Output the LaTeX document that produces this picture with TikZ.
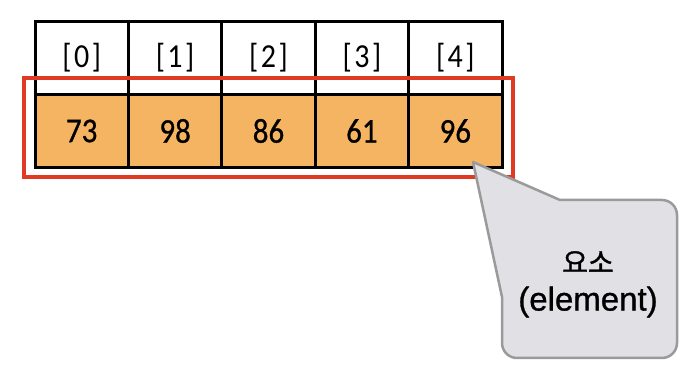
\documentclass[tikz,border=0pt]{standalone}
\usepackage{fontspec}
\usepackage{graphicx}
\setmainfont{Carlito}
\newfontfamily\cellfont[AutoFakeBold=0.8]{Carlito}
\newfontfamily\krfont[AutoFakeBold=1.2]{Noto Sans CJK KR}
\newfontfamily\arialfont[AutoFakeBold=0.9]{Liberation Sans}
\definecolor{cellorange}{HTML}{F4B462}
\definecolor{framered}{HTML}{E03A25}
\definecolor{calloutfill}{HTML}{E1E0E4}
\definecolor{calloutline}{HTML}{9A9A9A}
\tikzset{
  x=1pt,y=1pt,
  cellbox/.style={draw=black,line width=3pt,minimum width=93.4pt,minimum height=72.5pt,inner sep=0pt,anchor=center},
  headcell/.style={cellbox,fill=white,font=\cellfont\fontsize{30}{30}\selectfont},
  valcell/.style={cellbox,fill=cellorange,font=\cellfont\bfseries\fontsize{31}{31}\selectfont},
  redframe/.style={draw=framered,line width=4.5pt},
  callout/.style={draw=calloutline,fill=calloutfill,line width=2.5pt,line join=round},
}
\newcommand{\vs}[1]{\scalebox{1}[1.12]{#1}}
\begin{document}
\begin{tikzpicture}
\useasboundingbox (0,0) rectangle (694,380);
% header row
\foreach \i/\t in {0/0,1/1,2/2,3/3,4/4}{
  \node[headcell] (h\i) at ({35+46.7+93.4*\i},{380-58}) {\vs{[\kern2.5pt\t\kern2.5pt]}};
}
\foreach \i/\v in {0/73,1/98,2/86,3/61,4/96}{
  \node[valcell] (v\i) at ({35+46.7+93.4*\i},{380-131}) {\vs{\v}};
}
% red frame
\node[redframe,minimum width=489pt,minimum height=99pt,inner sep=0pt] (frame) at (268.5,{380-127.5}) {};
% callout
\coordinate (tip) at (473,218);
\draw[callout] (tip) -- (560,180) -- (662,180) arc[start angle=90,end angle=0,radius=15]
  -- (677,37) arc[start angle=0,end angle=-90,radius=15]
  -- (517,22) arc[start angle=270,end angle=180,radius=15]
  -- (502,83) -- cycle;
\node[font=\krfont\bfseries\fontsize{28}{28}\selectfont,inner sep=0pt] (lblkr) at (588,{380-262}) {요소};
\node[font=\arialfont\bfseries\fontsize{33}{33}\selectfont,inner sep=0pt] (lblen) at (588,{380-302}) {(element)};
\end{tikzpicture}
\end{document}
